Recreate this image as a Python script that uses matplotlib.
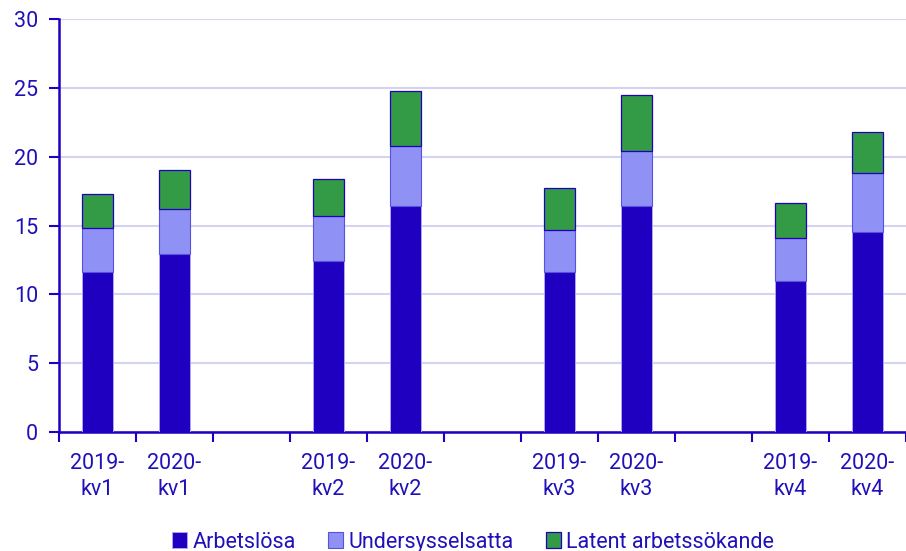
import matplotlib.pyplot as plt
import numpy as np

plt.rcParams['font.family'] = ['Roboto', 'DejaVu Sans']

# Data (percent), empty slots separate the quarters
categories = ['2019-\nkv1', '2020-\nkv1', '', '2019-\nkv2', '2020-\nkv2', '',
              '2019-\nkv3', '2020-\nkv3', '', '2019-\nkv4', '2020-\nkv4']
arbetslosa = [11.6, 12.9, np.nan, 12.4, 16.4, np.nan, 11.6, 16.4, np.nan, 11.0, 14.5]
undersysselsatta = [3.2, 3.3, np.nan, 3.3, 4.4, np.nan, 3.1, 4.0, np.nan, 3.1, 4.3]
latent = [2.5, 2.8, np.nan, 2.7, 4.0, np.nan, 3.0, 4.1, np.nan, 2.5, 3.0]

dark = '#1f00c0'
text_col = '#2010b8'

x = np.arange(len(categories))
a = np.array(arbetslosa)
u = np.array(undersysselsatta)
l = np.array(latent)
width = 0.41

fig = plt.figure(figsize=(9.06, 5.51), dpi=100)
ax = fig.add_axes([59 / 906, 1 - 432 / 551, 847 / 906, 413 / 551])

ax.bar(x, a, width, color=dark, edgecolor='#a8a8f0', linewidth=0.7, label='Arbetslösa', zorder=3)
ax.bar(x, u, width, bottom=a, color='#8f92f4', edgecolor='#5a50e0', linewidth=0.8,
       label='Undersysselsatta', zorder=3)
ax.bar(x, l, width, bottom=a + u, color='#339a45', edgecolor=dark, linewidth=0.9,
       label='Latent arbetssökande', zorder=3)

ax.set_xlim(-0.5, 10.44)
ax.set_ylim(0, 30)
ax.set_yticks(range(0, 31, 5))
ax.yaxis.grid(True, color='#d4d4f2', linewidth=1.5, zorder=0)

ax.set_xticks(np.arange(-0.5, 10.6, 1.0))
ax.set_xticklabels([])
ax.set_xticks(x, minor=True)
ax.set_xticklabels(categories, minor=True, linespacing=1.35)
ax.tick_params(axis='x', which='major', length=7, width=1.5, color=dark, direction='out')
ax.tick_params(axis='x', which='minor', length=0, pad=15, labelsize=15.5, labelcolor=text_col)
ax.tick_params(axis='y', length=7, width=1.5, color=dark, labelsize=15.5, labelcolor=text_col, pad=8)

for s in ['top', 'right']:
    ax.spines[s].set_visible(False)
for s in ['left', 'bottom']:
    ax.spines[s].set_color(dark)
    ax.spines[s].set_linewidth(1.8)

leg = fig.legend(loc='lower center', bbox_to_anchor=(0.522, -0.038), ncol=3, frameon=False,
                 fontsize=15.5, handlelength=0.7, handleheight=0.7, handletextpad=0.25,
                 columnspacing=1.5)
for t in leg.get_texts():
    t.set_color(text_col)

fig.savefig('out.png', dpi=100)
